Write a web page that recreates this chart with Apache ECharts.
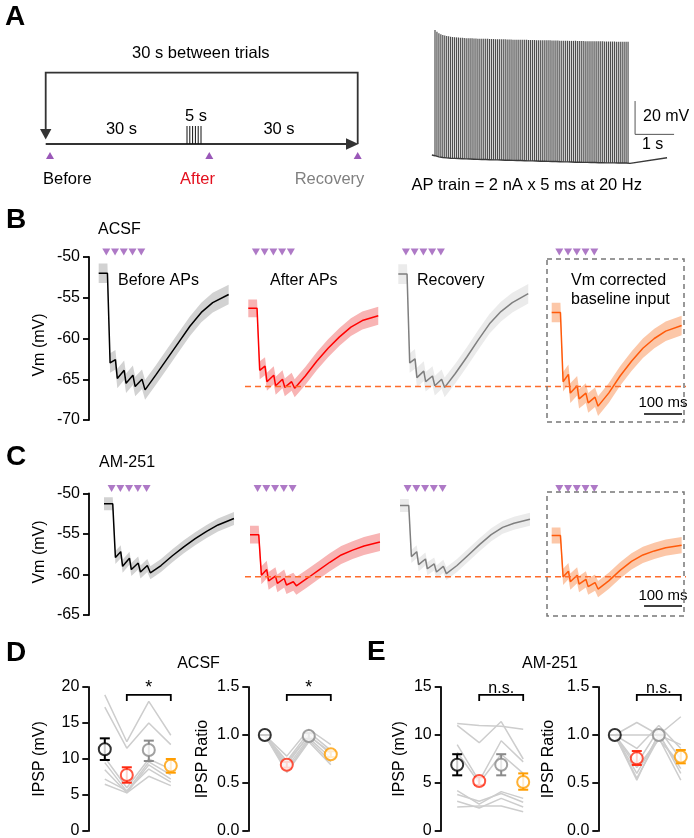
<!DOCTYPE html>
<html><head><meta charset="utf-8">
<script src="https://cdn.jsdelivr.net/npm/echarts/dist/echarts.min.js"></script>
<style>html,body{margin:0;padding:0;background:#fff}#c{width:694px;height:838px}</style>
</head><body><div id="c"></div>
<script>
// ================= DATA =================
// Panel A: AP train (mV), one value per spike, 20 Hz for 5 s
const apRateHz = 20;
const apPeaksMv = [5.0,3.9,3.1,2.5,2.0,1.7,1.4,1.2,1.0,0.8,
0.7,0.6,0.5,0.4,0.3,0.2,0.1,0.1,0.0,0.0,
-0.1,-0.1,-0.2,-0.2,-0.2,-0.3,-0.3,-0.3,-0.4,-0.4,
-0.4,-0.5,-0.5,-0.5,-0.6,-0.6,-0.6,-0.7,-0.7,-0.7,
-0.8,-0.8,-0.8,-0.8,-0.9,-0.9,-0.9,-0.9,-1.0,-1.0,
-1.0,-1.0,-1.1,-1.1,-1.1,-1.1,-1.2,-1.2,-1.2,-1.2,
-1.3,-1.3,-1.3,-1.3,-1.4,-1.4,-1.4,-1.4,-1.5,-1.5,
-1.5,-1.5,-1.5,-1.6,-1.6,-1.6,-1.6,-1.7,-1.7,-1.7,
-1.7,-1.7,-1.8,-1.8,-1.8,-1.8,-1.8,-1.9,-1.9,-1.9,
-1.9,-1.9,-1.9,-2.0,-2.0,-2.0,-2.0,-2.0,-2.0,-2.0];
const apTroughsMv = [-70.4,-70.8,-71.1,-71.3,-71.5,-71.6,-71.7,-71.8,-71.9,-72.0,
-72.0,-72.1,-72.1,-72.2,-72.2,-72.3,-72.3,-72.4,-72.4,-72.5,
-72.5,-72.5,-72.6,-72.6,-72.7,-72.7,-72.7,-72.8,-72.8,-72.8,
-72.9,-72.9,-72.9,-73.0,-73.0,-73.0,-73.1,-73.1,-73.1,-73.2,
-73.2,-73.2,-73.3,-73.3,-73.3,-73.4,-73.4,-73.4,-73.5,-73.5,
-73.5,-73.6,-73.6,-73.6,-73.7,-73.7,-73.7,-73.8,-73.8,-73.8,
-73.9,-73.9,-73.9,-74.0,-74.0,-74.0,-74.1,-74.1,-74.1,-74.2,
-74.2,-74.2,-74.3,-74.3,-74.3,-74.3,-74.4,-74.4,-74.4,-74.4,
-74.5,-74.5,-74.5,-74.5,-74.6,-74.6,-74.6,-74.6,-74.7,-74.7,
-74.7,-74.7,-74.7,-74.8,-74.8,-74.8,-74.8,-74.8,-74.8,-74.8];
const apPreT = -0.08, apPreV = -70.0;
const apPostT = [5.0, 5.95];
const apPostV = [-75.0, -71.6];
const apScaleT0 = 5.13, apScaleV0 = -57.6, apScaleDt = 1, apScaleDv = 20;

// Panels B/C: averaged IPSP traces (ms, mV)
const traceT = [0, 23, 30, 44, 49, 67, 72, 90, 96, 114, 122, 150, 180, 210, 240, 270, 300, 342];
const acsfBefore    = [-52.0,-52.0,-63.0,-62.6,-64.9,-63.9,-65.5,-64.5,-65.9,-65.0,-66.3,-64.5,-62.5,-60.5,-58.5,-56.8,-55.6,-54.6];
const acsfAfter     = [-56.3,-56.3,-63.9,-63.4,-65.3,-64.5,-65.8,-65.0,-66.0,-65.3,-66.1,-64.6,-62.8,-61.2,-59.8,-58.6,-57.8,-57.2];
const acsfRecovery  = [-52.1,-52.1,-63.0,-62.5,-64.8,-64.0,-65.3,-64.6,-65.8,-65.0,-66.0,-64.3,-62.3,-60.2,-58.2,-56.7,-55.6,-54.5];
const acsfCorrected = [-56.8,-56.8,-65.3,-64.4,-66.7,-65.8,-67.4,-66.7,-67.9,-67.2,-68.3,-66.7,-64.6,-62.8,-61.2,-60.0,-59.1,-58.4];
const am251Before    = [-51.3,-51.3,-57.9,-57.2,-59.0,-58.0,-59.4,-58.6,-59.7,-58.9,-59.8,-58.9,-57.7,-56.6,-55.6,-54.7,-53.9,-53.1];
const am251After     = [-55.1,-55.1,-60.1,-59.4,-60.8,-60.2,-61.1,-60.5,-61.3,-60.9,-61.4,-60.5,-59.5,-58.5,-57.6,-57.0,-56.5,-56.0];
const am251Recovery  = [-51.5,-51.5,-57.8,-57.2,-58.8,-58.1,-59.3,-58.7,-59.7,-59.0,-59.9,-58.9,-57.6,-56.3,-55.1,-54.2,-53.7,-53.2];
const am251Corrected = [-55.2,-55.2,-60.3,-59.6,-60.9,-60.1,-61.2,-60.6,-61.5,-61.0,-61.8,-60.8,-59.5,-58.4,-57.6,-57.1,-56.7,-56.4];
const acsfSem  = [1.2, 1.1, 1.2, 1.2];
const am251Sem = [0.8, 1.1, 0.8, 1.0];
const stimT = [20, 43, 66, 89, 112];
const stimLevelMv = -49.4;
const acsfRefMv = -65.9, am251RefMv = -60.3;
const scaleBarMs = 100, scaleBarStartMs = 243;
const acsfScaleLevel = -69.26, am251ScaleLevel = -63.9;
const vmTicksB = [-70, -50, 5], vmTicksC = [-65, -50, 5];

// Panels D/E: conditions Before, After, Recovery, Vm corrected
const condColors = ['#000000', '#ff2a12', '#8a8a8a', '#ff9d00'];
const dIpspMean = [11.35, 7.78, 11.25, 9.07];
const dIpspLo   = [9.86, 6.71, 9.72, 8.10];
const dIpspHi   = [12.87, 8.85, 12.55, 10.00];
const dIpspSubj = [
  [18.9, 12.4, 18.0, 13.3],
  [17.2, 11.5, 15.0, 12.0],
  [10.2, 6.0, 10.0, 8.6],
  [9.5, 5.5, 9.6, 7.8],
  [8.5, 5.3, 9.2, 7.2],
  [7.2, 5.6, 8.6, 6.8],
  [6.5, 5.3, 7.6, 6.3]];
const dRatioMean = [1.0, 0.69, 0.99, 0.80];
const dRatioLo   = [1.0, 0.66, 0.96, 0.77];
const dRatioHi   = [1.0, 0.72, 1.02, 0.83];
const dRatioSubj = [
  [1, 0.78, 1.06, 0.90],
  [1, 0.73, 1.03, 0.84],
  [1, 0.69, 1.00, 0.80],
  [1, 0.66, 0.97, 0.76],
  [1, 0.63, 0.95, 0.72],
  [1, 0.61, 0.93, 0.69],
  [1, 0.72, 0.99, 0.82]];
const eIpspMean = [6.9, 5.2, 6.9, 5.1];
const eIpspLo   = [5.8, 4.8, 5.8, 4.3];
const eIpspHi   = [8.0, 5.6, 8.0, 6.0];
const eIpspSubj = [
  [11.2, 11.0, 10.9, 10.6],
  [11.0, 9.2, 11.4, 7.5],
  [9.0, 5.2, 9.4, 7.2],
  [8.2, 5.0, 8.0, 6.0],
  [4.2, 2.8, 4.1, 3.4],
  [3.8, 3.1, 3.9, 3.0],
  [3.1, 2.4, 3.4, 2.5],
  [2.5, 2.6, 2.6, 2.0]];
const eRatioMean = [1.0, 0.757, 1.0, 0.774];
const eRatioLo   = [1.0, 0.688, 1.0, 0.705];
const eRatioHi   = [1.0, 0.833, 1.0, 0.844];
const eRatioSubj = [
  [1, 1.13, 1.00, 0.90],
  [1, 1.00, 1.00, 1.19],
  [1, 0.86, 1.10, 0.86],
  [1, 0.70, 1.06, 0.75],
  [1, 0.60, 1.00, 0.65],
  [1, 0.55, 0.97, 0.53],
  [1, 0.53, 1.02, 0.60],
  [1, 0.66, 0.95, 0.70]];
const sigPair = [1, 3];
const sigLevels = [18.9, 1.417, 14.17, 1.417];
const sigLabels = ['*', '*', 'n.s.', 'n.s.'];

// ================= BUILD =================
const FONT = '"Liberation Sans", Arial, Helvetica, sans-serif';
const PURPLE = '#9a58b8';
const grids = [], xAxes = [], yAxes = [], series = [];
function addGrid(g, x, y) {
  grids.push(Object.assign({containLabel: false, outerBoundsMode: 'none'}, g));
  const i = grids.length - 1;
  xAxes.push(Object.assign({gridIndex: i}, x));
  yAxes.push(Object.assign({gridIndex: i}, y));
  return i;
}
function yAxisStyle(show, min, max, interval, offset, fmt) {
  return {type: 'value', min, max, interval, show, offset: offset || 0, position: 'left',
    axisLine: {show: true, onZero: false, lineStyle: {color: '#000', width: 1.8}},
    axisTick: {show: true, inside: false, length: 6, lineStyle: {color: '#000', width: 1.8}},
    axisLabel: {show: true, color: '#000', fontSize: 16, fontFamily: FONT, margin: 9, showMinLabel: true, showMaxLabel: true, formatter: fmt},
    splitLine: {show: false}};
}
const hiddenX = (min, max) => ({type: 'value', min, max, show: false, splitLine: {show: false}});

// --- AP train grid ---
const gAP = addGrid({left: 431.1, top: 21.7, width: 245.7, height: 150},
  hiddenX(-0.1, 6.2), {type: 'value', min: -80, max: 10, show: false, splitLine: {show: false}});
// spikes: one filled bar per spike, trough -> peak
series.push({type: 'custom', xAxisIndex: gAP, yAxisIndex: gAP, silent: true, z: 2,
  data: apPeaksMv.map((p, i) => [i / apRateHz, apTroughsMv[i], p]),
  renderItem: (params, api) => {
    const a = api.coord([api.value(0), api.value(1)]);
    const b = api.coord([api.value(0), api.value(2)]);
    return {type: 'rect', shape: {x: a[0] - 0.6, y: b[1], width: 1.2, height: a[1] - b[1]},
      style: {fill: '#4d4d4d'}};
  }});
// baseline through troughs
const apBase = [[apPreT, apPreV]].concat(apTroughsMv.map((v, i) => [i / apRateHz, v]))
  .concat(apPostT.map((t, i) => [t, apPostV[i]]));
series.push({type: 'line', xAxisIndex: gAP, yAxisIndex: gAP, data: apBase, showSymbol: false, silent: true, z: 3,
  lineStyle: {color: '#3a3a3a', width: 1.4}});
series.push({type: 'line', xAxisIndex: gAP, yAxisIndex: gAP, showSymbol: false, silent: true,
  data: [[apScaleT0, apScaleV0 + apScaleDv], [apScaleT0, apScaleV0], [apScaleT0 + apScaleDt, apScaleV0]],
  lineStyle: {color: '#555', width: 1}});

// --- traces ---
function bandSeries(gi, vals, sem, color) {
  return {type: 'custom', xAxisIndex: gi, yAxisIndex: gi, silent: true, z: 1, clip: false,
    data: [[traceT[0], vals[0]]],
    renderItem: (params, api) => {
      const up = traceT.map((t, i) => api.coord([t, vals[i] + sem]));
      const dn = traceT.map((t, i) => api.coord([t, vals[i] - sem])).reverse();
      return {type: 'polygon', shape: {points: up.concat(dn)}, style: {fill: color}};
    }};
}
function traceSeries(gi, vals, color) {
  return {type: 'line', xAxisIndex: gi, yAxisIndex: gi, silent: true, z: 3, showSymbol: false,
    data: traceT.map((t, i) => [t, vals[i]]), lineStyle: {color, width: 1.5}};
}
function stimSeries(gi) {
  return {type: 'scatter', xAxisIndex: gi, yAxisIndex: gi, silent: true, z: 4, clip: false,
    data: stimT.map(t => [t, stimLevelMv]), symbol: 'triangle', symbolRotate: 180, symbolSize: [8, 7],
    itemStyle: {color: PURPLE}};
}
const traceColors = ['#000000', '#ff0000', '#7f7f7f', '#ff5a0a'];
const bandColors = ['#d2d2d2', '#f8b4b4', '#ebebeb', '#fcc7a8'];
function tracePanel(lefts, top, height, ticks, sets, sems, axisOffset, ref, scaleLevel) {
  lefts.forEach((L, k) => {
    const gi = addGrid({left: L, top, width: 133, height}, hiddenX(0, 350),
      yAxisStyle(k === 0, ticks[0], ticks[1], ticks[2], axisOffset));
    series.push(bandSeries(gi, sets[k], sems[k], bandColors[k]));
    series.push(traceSeries(gi, sets[k], traceColors[k]));
    series.push(stimSeries(gi));
    if (k === 3) {
      series.push({type: 'line', xAxisIndex: gi, yAxisIndex: gi, silent: true, z: 5, showSymbol: false,
        data: [[scaleBarStartMs, scaleLevel], [scaleBarStartMs + scaleBarMs, scaleLevel]],
        lineStyle: {color: '#000', width: 1.5}});
    }
  });
  const go = addGrid({left: 245, top, width: 441, height}, hiddenX(0, 1),
    {type: 'value', min: ticks[0], max: ticks[1], show: false, splitLine: {show: false}});
  series.push({type: 'line', xAxisIndex: go, yAxisIndex: go, silent: true, z: 6, showSymbol: false,
    data: [[0, ref], [1, ref]], lineStyle: {color: '#ff6b2b', width: 1.5, type: [6, 4]}});
}
tracePanel([98.7, 248.3, 398.3, 551.7], 257, 163, vmTicksB,
  [acsfBefore, acsfAfter, acsfRecovery, acsfCorrected], acsfSem, 9.7, acsfRefMv, acsfScaleLevel);
tracePanel([104, 250, 400, 551.7], 493.3, 121.7, vmTicksC,
  [am251Before, am251After, am251Recovery, am251Corrected], am251Sem, 15, am251RefMv, am251ScaleLevel);

// --- summary plots ---
function summary(left, ymax, interval, fmt, subj, mean, lo, hi, k) {
  const gi = addGrid({left, top: 687, width: 88, height: 144}, hiddenX(-0.75, 3.25),
    yAxisStyle(true, 0, ymax, interval, 0, fmt));
  subj.forEach(s => series.push({type: 'line', xAxisIndex: gi, yAxisIndex: gi, silent: true, z: 1, showSymbol: false,
    data: s.map((v, i) => [i, v]), lineStyle: {color: '#cdcdcd', width: 1.5}}));
  series.push({type: 'custom', xAxisIndex: gi, yAxisIndex: gi, silent: true, z: 2,
    data: mean.map((m, i) => [i, lo[i], hi[i]]),
    renderItem: (p, api) => {
      const x = api.value(0);
      const a = api.coord([x, api.value(1)]), b = api.coord([x, api.value(2)]);
      const c = condColors[p.dataIndex];
      const st = {stroke: c, lineWidth: 2};
      return {type: 'group', children: [
        {type: 'line', shape: {x1: a[0], y1: a[1], x2: b[0], y2: b[1]}, style: st},
        {type: 'line', shape: {x1: a[0] - 5, y1: a[1], x2: a[0] + 5, y2: a[1]}, style: st},
        {type: 'line', shape: {x1: b[0] - 5, y1: b[1], x2: b[0] + 5, y2: b[1]}, style: st}]};
    }});
  series.push({type: 'scatter', xAxisIndex: gi, yAxisIndex: gi, silent: true, z: 3, symbol: 'circle', symbolSize: 12,
    data: mean.map((m, i) => ({value: [i, m], itemStyle: {color: '#fff', borderColor: condColors[i], borderWidth: 2}}))});
  series.push({type: 'custom', xAxisIndex: gi, yAxisIndex: gi, silent: true, z: 4, clip: false,
    data: [[sigPair[0], sigPair[1], sigLevels[k]]],
    renderItem: (p, api) => {
      const a = api.coord([api.value(0), api.value(2)]), b = api.coord([api.value(1), api.value(2)]);
      return {type: 'group', children: [
        {type: 'polyline', shape: {points: [[a[0], a[1] + 6], a, b, [b[0], b[1] + 6]]}, style: {stroke: '#000', lineWidth: 1.8, fill: null}},
        {type: 'text', x: (a[0] + b[0]) / 2, y: a[1] + 2, style: {text: sigLabels[k], fill: '#000',
          font: (sigLabels[k] === '*' ? 18 : 16) + 'px ' + FONT, align: 'center', verticalAlign: 'bottom',
          textAlign: 'center', textVerticalAlign: 'bottom'}}]};
    }});
}
const fmt1 = v => v.toFixed(1);
summary(88.3, 20, 5, null, dIpspSubj, dIpspMean, dIpspLo, dIpspHi, 0);
summary(248.3, 1.5, 0.5, fmt1, dRatioSubj, dRatioMean, dRatioLo, dRatioHi, 1);
summary(440.7, 15, 5, null, eIpspSubj, eIpspMean, eIpspLo, eIpspHi, 2);
summary(598.3, 1.5, 0.5, fmt1, eRatioSubj, eRatioMean, eRatioLo, eRatioHi, 3);

// ================= GRAPHICS (text & schematic) =================
function txt(text, x, y, o) {
  o = o || {};
  const al = o.align || 'left';
  return {type: 'text', x, y, rotation: o.rot || 0, z: 100, silent: true,
    style: {text, fill: o.color || '#000', font: (o.bold ? 'bold ' : '') + (o.size || 16) + 'px ' + FONT,
      align: al, verticalAlign: 'middle', textAlign: al, textVerticalAlign: 'middle'}};
}
function ln(x1, y1, x2, y2, color, w) {
  return {type: 'line', silent: true, z: 100, shape: {x1, y1, x2, y2}, style: {stroke: color, lineWidth: w}};
}
function poly(points, color) {
  return {type: 'polygon', silent: true, z: 100, shape: {points}, style: {fill: color}};
}
const SC = '#333';
const upTri = (cx, cy) => poly([[cx - 4, cy + 3.5], [cx + 4, cy + 3.5], [cx, cy - 3.5]], PURPLE);
const g = [
  txt('A', 5, 17, {bold: true, size: 28}),
  txt('B', 6, 220, {bold: true, size: 28}),
  txt('C', 6, 457, {bold: true, size: 28}),
  txt('D', 6, 653, {bold: true, size: 28}),
  txt('E', 367, 652, {bold: true, size: 28}),
  // schematic
  txt('30 s between trials', 200.8, 53, {align: 'center', size: 16.5}),
  {type: 'polyline', silent: true, z: 100, shape: {points: [[45.7, 130], [45.7, 72.7], [357.7, 72.7], [357.7, 144]]},
    style: {stroke: SC, lineWidth: 1.8, fill: null}},
  poly([[40, 129], [51.4, 129], [45.7, 139.5]], SC),
  ln(45.7, 144, 348, 144, SC, 1.8),
  poly([[346, 138.3], [346, 149.7], [358.5, 144]], SC),
  ln(187, 126, 187, 144, '#111', 1), ln(189.8, 126, 189.8, 144, '#111', 1), ln(192.6, 126, 192.6, 144, '#111', 1),
  ln(195.4, 126, 195.4, 144, '#111', 1), ln(198.2, 126, 198.2, 144, '#111', 1), ln(201, 126, 201, 144, '#111', 1),
  txt('5 s', 196, 116, {align: 'center', size: 16.5}),
  txt('30 s', 121.5, 129, {align: 'center', size: 16.5}),
  txt('30 s', 279, 129, {align: 'center', size: 16.5}),
  upTri(50, 155.5), upTri(209.3, 155.5), upTri(357.7, 155.5),
  txt('Before', 43, 179, {size: 16.5}),
  txt('After', 197.5, 179, {align: 'center', size: 16.5, color: '#e3101e'}),
  txt('Recovery', 329.5, 179, {align: 'center', size: 16.5, color: '#808080'}),
  txt('20 mV', 643, 117, {size: 16}),
  txt('1 s', 642, 145, {size: 16}),
  txt('AP train = 2 nA x 5 ms at 20 Hz', 526.7, 185, {align: 'center', size: 16.5}),
  // B
  txt('ACSF', 98, 230),
  txt('Before APs', 118, 281),
  txt('After APs', 270, 281),
  txt('Recovery', 417, 281),
  txt('Vm corrected', 571, 281),
  txt('baseline input', 571, 300),
  txt('Vm (mV)', 40, 345, {align: 'center', rot: Math.PI / 2}),
  txt('100 ms', 663, 403, {align: 'center', size: 15}),
  {type: 'rect', silent: true, z: 100, shape: {x: 547, y: 259, width: 137, height: 163},
    style: {fill: null, stroke: '#777', lineWidth: 1.5, lineDash: [5, 4]}},
  // C
  txt('AM-251', 99, 463),
  txt('Vm (mV)', 40, 552, {align: 'center', rot: Math.PI / 2}),
  txt('100 ms', 663, 596, {align: 'center', size: 15}),
  {type: 'rect', silent: true, z: 100, shape: {x: 547, y: 492, width: 137, height: 124},
    style: {fill: null, stroke: '#777', lineWidth: 1.5, lineDash: [5, 4]}},
  // D/E
  txt('ACSF', 198.5, 664, {align: 'center'}),
  txt('AM-251', 550, 664, {align: 'center'}),
  txt('IPSP (mV)', 40, 759, {align: 'center', rot: Math.PI / 2}),
  txt('IPSP Ratio', 203, 759, {align: 'center', rot: Math.PI / 2}),
  txt('IPSP (mV)', 400, 759, {align: 'center', rot: Math.PI / 2}),
  txt('IPSP Ratio', 549, 759, {align: 'center', rot: Math.PI / 2})
];

const chart = echarts.init(document.getElementById('c'), null, {renderer: 'canvas', width: 694, height: 838});
chart.setOption({
  animation: false,
  backgroundColor: '#fff',
  textStyle: {fontFamily: FONT},
  grid: grids, xAxis: xAxes, yAxis: yAxes, series,
  graphic: {elements: g}
});
</script></body></html>
